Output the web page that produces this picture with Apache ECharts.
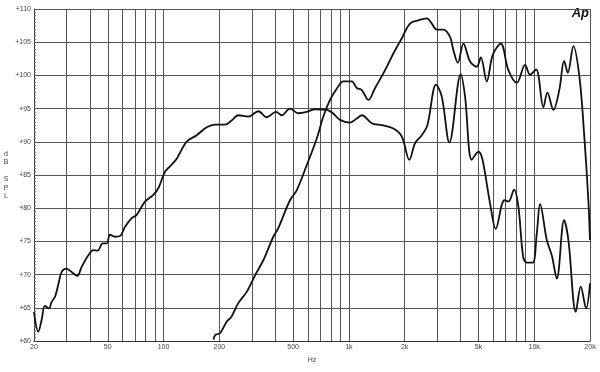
<!DOCTYPE html>
<html>
<head>
<meta charset="utf-8">
<script src="https://cdn.jsdelivr.net/npm/echarts@6/dist/echarts.min.js"></script>
<style>html,body{margin:0;padding:0;background:#fff}#c{width:600px;height:372px}</style>
</head>
<body>
<div id="c"></div>
<script>
const freqA = [20,21.1,22.0,22.9,24.1,24.9,26.0,27.0,28.2,29.8,31.9,34.2,36.2,39.3,41.8,44.1,47.0,49.4,51.4,54.7,58.2,62.0,67.3,71.6,79.4,88.1,93.7,101.9,108.4,118,133,151,171,190,215,233,253,287,325,360,405,434,481,534,593,657,760,820,896,1015,1103,1174,1329,1504,1738,1930,2120,2276,2474,2652,2955,3171,3486,4016,4236,4604,4998,5252,5780,6201,6684,6904,7254,7788,8218,8740,9186,9826,10326,10760,11692,12437,13241,14496,15292,16765,17834,19052,20000];
const splA = [64.4,61.4,63.2,65.3,64.9,65.9,66.7,68.4,70.4,70.9,70.4,69.8,71.2,72.9,73.7,73.6,74.7,74.7,76.0,75.7,75.8,77.2,78.5,79.0,81.0,82.0,83.0,85.5,86.3,87.5,90.0,91.0,92.2,92.6,92.6,93.2,94.0,93.8,94.6,93.7,94.5,94.0,95.0,94.3,94.5,94.9,94.8,94.3,93.3,92.9,93.5,94.0,92.8,92.5,92.0,90.8,87.3,89.8,91.0,92.5,98.6,96.8,89.9,100.2,96.8,87.3,88.5,87.4,80.7,76.9,80.5,81.2,81.0,82.8,80.2,72.5,71.8,71.8,76.2,80.6,75.2,72.9,69.4,78.2,75.2,64.4,68.2,64.9,68.7];
const freqB = [186,190,202,219,233,253,281,312,346,391,416,481,523,593,671,728,791,860,934,1036,1103,1174,1274,1385,1568,1738,1930,2138,2372,2632,2802,2979,3236,3516,3664,3870,4150,4508,4898,5150,5546,5977,6600,7254,8054,8928,9500,10234,11210,11778,12692,13678,14496,15180,16274,17532,18580,19592,20000];
const splB = [60.2,60.9,61.2,62.9,63.7,65.7,67.4,69.9,72.2,75.7,77.0,81.2,82.7,86.5,90.5,93.8,96.3,98.0,99.1,99.1,98.1,97.8,96.3,98.1,100.8,103.3,105.6,107.8,108.3,108.6,107.8,106.9,106.9,105.8,103.8,101.9,104.8,102.1,101.3,102.7,99.1,103.1,104.8,100.8,98.9,101.6,100.1,100.9,95.2,97.4,94.8,97.9,102.2,100.4,104.4,99.8,91.3,81.2,75.2];
const gridFreqs = [20,30,40,50,60,70,80,90,100,200,300,400,500,600,700,800,900,1000,2000,3000,4000,5000,6000,7000,8000,9000,10000,20000];
const labelFreqs = [20,50,100,200,500,1000,2000,5000,10000,20000];
const yTicks = [60,65,70,75,80,85,90,95,100,105,110];

const zip = (f, v) => f.map((x, i) => [x, v[i]]);
const fmtHz = v => v >= 1000 ? (v / 1000) + 'k' : String(v);
const chart = echarts.init(document.getElementById('c'), null, {renderer: 'canvas'});
const lab = {color: '#444', fontSize: 7, fontFamily: 'Liberation Sans, Arial, sans-serif'};
chart.setOption({
  animation: false,
  backgroundColor: '#fff',
  grid: {left: 34, right: 10, top: 9, bottom: 31},
  xAxis: {
    type: 'log', logBase: 10, min: 20, max: 20000,
    name: 'Hz', nameLocation: 'middle', nameGap: 16,
    nameTextStyle: lab,
    axisLine: {show: true, onZero: false, lineStyle: {color: '#333', width: 1}},
    axisTick: {show: false, customValues: gridFreqs},
    axisLabel: Object.assign({customValues: labelFreqs, margin: 3, formatter: fmtHz}, lab),
    splitLine: {show: true, lineStyle: {color: '#555', width: 1}},
    minorTick: {show: false}, minorSplitLine: {show: false}
  },
  yAxis: {
    type: 'value', min: 60, max: 110, interval: 5,
    name: 'd\nB\n\nS\nP\nL', nameLocation: 'middle', nameRotate: 0, nameGap: 28,
    nameTextStyle: Object.assign({lineHeight: 8.5, align: 'center'}, lab),
    axisLine: {show: true, lineStyle: {color: '#333', width: 1}},
    axisTick: {show: true, inside: true, length: 3, lineStyle: {color: '#555'}},
    minorTick: {show: true, splitNumber: 10, length: 2, lineStyle: {color: '#777'}},
    axisLabel: Object.assign({margin: 3, formatter: v => '+' + v}, lab),
    splitLine: {show: true, lineStyle: {color: '#555', width: 1}}
  },
  graphic: [{
    type: 'text', right: 11, top: 7,
    style: {text: 'Ap', font: 'italic bold 13px Liberation Sans, Arial, sans-serif', fill: '#111'}
  }],
  series: [
    {type: 'line', data: zip(freqA, splA), smooth: 0.35, symbol: 'none', clip: true,
     lineStyle: {color: '#111', width: 1.8}},
    {type: 'line', data: zip(freqB, splB), smooth: 0.35, symbol: 'none', clip: true,
     lineStyle: {color: '#111', width: 1.8}}
  ]
});
</script>
</body>
</html>
